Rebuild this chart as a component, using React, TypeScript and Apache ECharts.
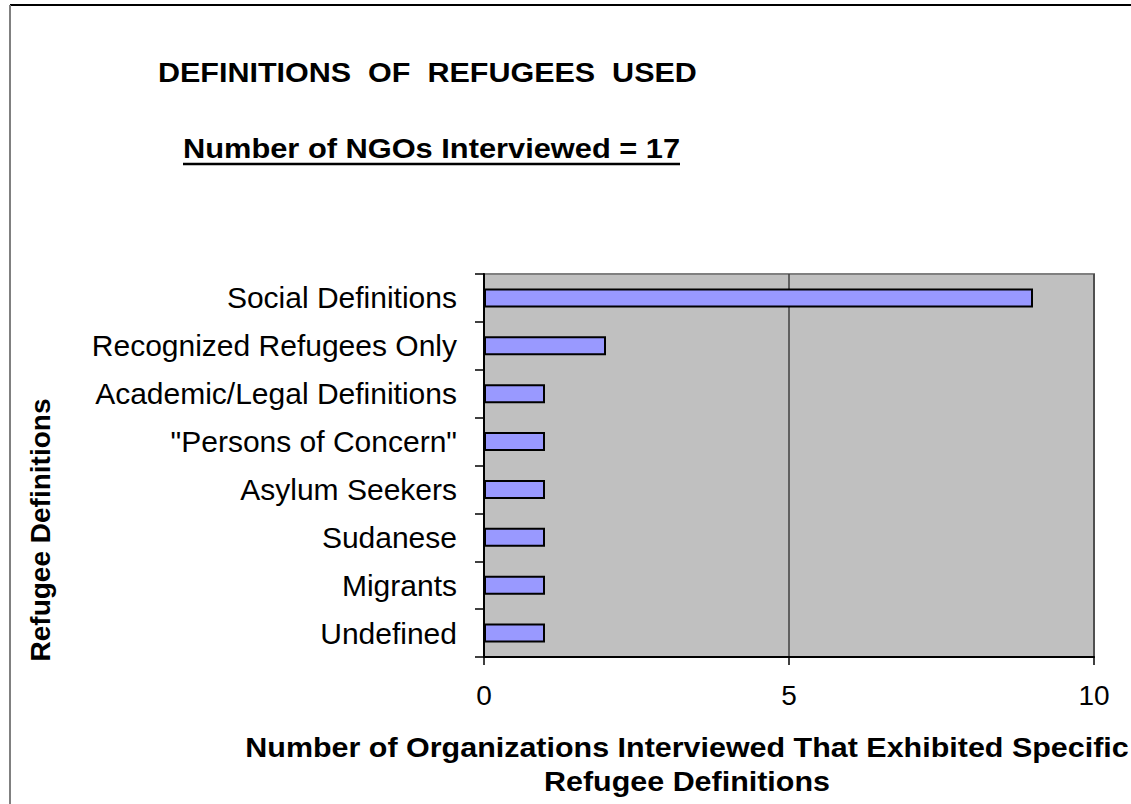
import React, { useEffect, useRef } from "react";
import * as echarts from "echarts";

const categories = [
  "Undefined",
  "Migrants",
  "Sudanese",
  "Asylum Seekers",
  "\"Persons of Concern\"",
  "Academic/Legal Definitions",
  "Recognized Refugees Only",
  "Social Definitions",
];
const values = [1, 1, 1, 1, 1, 1, 2, 9];
const xTicks = [0, 5, 10];

const titleText = "DEFINITIONS  OF  REFUGEES  USED";
const subtitleText = "Number of NGOs Interviewed = 17";
const yName = "Refugee Definitions";
const xName1 = "Number of Organizations Interviewed That Exhibited Specific";
const xName2 = "Refugee Definitions";

export default function App() {
  const ref = useRef<HTMLDivElement>(null);
  useEffect(() => {
    document.body.style.margin = "0";
    const chart = echarts.init(ref.current!, null, { renderer: "svg" });
    const font = "Arial, 'Liberation Sans', sans-serif";
    chart.setOption({
      animation: false,
      backgroundColor: "#ffffff",
      textStyle: { fontFamily: font },
      grid: {
        left: 484,
        top: 274,
        width: 610,
        height: 383,
        show: true,
        backgroundColor: "#C0C0C0",
        borderColor: "#808080",
        borderWidth: 2,
        containLabel: false,
      },
      xAxis: {
        type: "value",
        min: 0,
        max: 10,
        interval: 5,
        axisLine: { show: true, lineStyle: { color: "#000", width: 2 } },
        axisTick: { show: true, length: 8, lineStyle: { color: "#000", width: 1.5 } },
        axisLabel: {
          margin: 24,
          fontSize: 28,
          color: "#000",
          fontFamily: font,
          formatter: (v: number) => (xTicks.includes(v) ? String(v) : ""),
        },
        splitLine: { show: true, lineStyle: { color: "#404040", width: 1.5 } },
      },
      yAxis: {
        type: "category",
        data: categories,
        axisLine: { show: true, lineStyle: { color: "#000", width: 2 } },
        axisTick: { show: true, length: 9, inside: false, lineStyle: { color: "#000", width: 1.5 } },
        axisLabel: { margin: 27, fontSize: 30, color: "#000", fontFamily: font },
        splitLine: { show: false },
      },
      series: [
        {
          type: "bar",
          data: values,
          barWidth: 19,
          itemStyle: { color: "#9999FF", borderColor: "#000", borderWidth: 2 },
        },
      ],
      graphic: [
        { type: "line", shape: { x1: 10, y1: 5, x2: 1131, y2: 5 }, style: { stroke: "#000", lineWidth: 2 } },
        { type: "line", shape: { x1: 10, y1: 5, x2: 10, y2: 804 }, style: { stroke: "#808080", lineWidth: 2 } },
        {
          type: "text",
          x: 158,
          y: 72,
          scaleX: 1.09,
          style: { text: titleText, font: `bold 28px ${font}`, fill: "#000", align: "left", verticalAlign: "middle" },
        },
        {
          type: "text",
          x: 183,
          y: 148,
          scaleX: 1.1,
          style: { text: subtitleText, font: `bold 28px ${font}`, fill: "#000", align: "left", verticalAlign: "middle" },
        },
        { type: "line", shape: { x1: 183, y1: 164, x2: 680, y2: 164 }, style: { stroke: "#000", lineWidth: 2.5 } },
        {
          type: "text",
          x: 40,
          y: 530,
          rotation: Math.PI / 2,
          style: { text: yName, font: `bold 28px ${font}`, fill: "#000", align: "center", verticalAlign: "middle" },
        },
        {
          type: "text",
          x: 687,
          y: 747,
          scaleX: 1.088,
          style: { text: xName1, font: `bold 28px ${font}`, fill: "#000", align: "center", verticalAlign: "middle" },
        },
        {
          type: "text",
          x: 687,
          y: 781,
          scaleX: 1.088,
          style: { text: xName2, font: `bold 28px ${font}`, fill: "#000", align: "center", verticalAlign: "middle" },
        },
      ],
    });
    return () => chart.dispose();
  }, []);
  return <div ref={ref} style={{ width: 1131, height: 804 }} />;
}
